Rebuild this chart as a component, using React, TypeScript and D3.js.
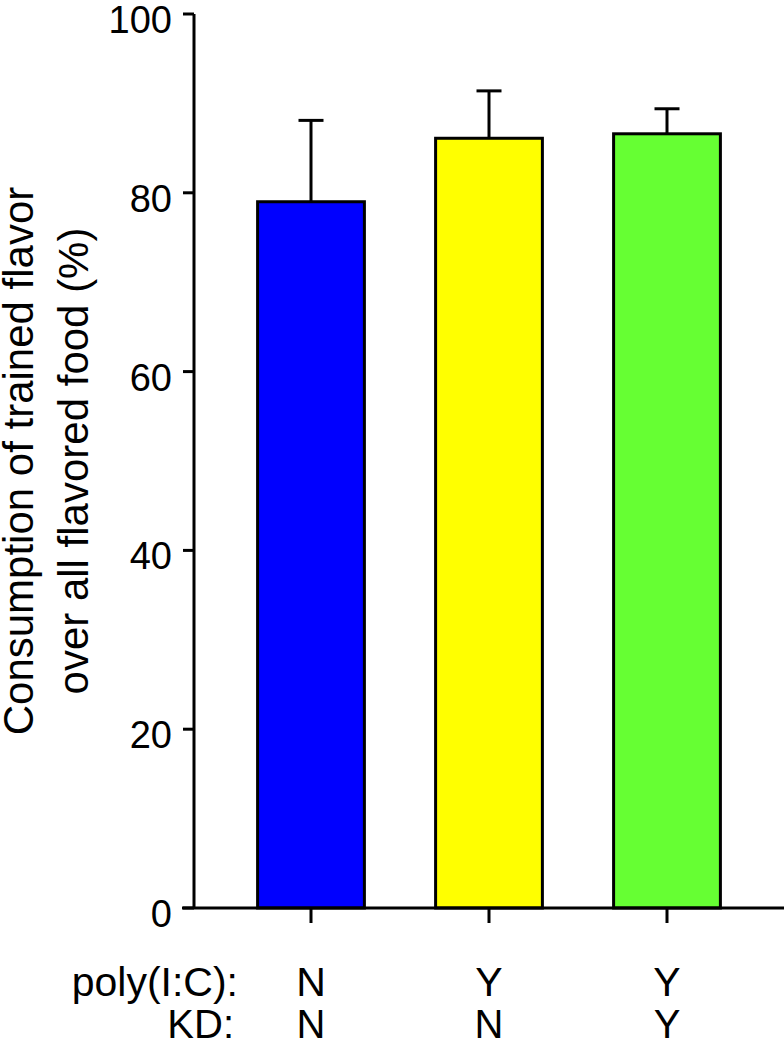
import React from "react";
import * as d3 from "d3";

const categories = ["A", "B", "C"];
const means = [79.0, 86.1, 86.6];
const errors = [9.1, 5.3, 2.8];
const colors = ["#0000FF", "#FFFF00", "#66FF33"];
const polyLabels = ["N", "Y", "Y"];
const kdLabels = ["N", "N", "Y"];
const yTicks = [0, 20, 40, 60, 80, 100];

const W = 784;
const H = 1044;
const FONT = "'Liberation Sans', Arial, Helvetica, sans-serif";

export default function App() {
  const y = d3.scaleLinear().domain([0, 100]).range([908, 14]);
  const x = d3
    .scaleBand<string>()
    .domain(categories)
    .range([222, 756])
    .paddingInner(0.4)
    .paddingOuter(0.2);
  const axisX = 194;
  const bw = x.bandwidth();
  const capW = 25;

  return (
    <svg
      width={W}
      height={H}
      style={{ position: "absolute", left: 0, top: 0, background: "#fff" }}
      fontFamily={FONT}
    >
      {/* bars */}
      {categories.map((c, i) => {
        const x0 = x(c)!;
        const cx = x0 + bw / 2;
        const top = y(means[i]);
        const errTop = y(means[i] + errors[i]);
        return (
          <g key={c}>
            <line x1={cx} x2={cx} y1={top} y2={errTop} stroke="#000" strokeWidth={3} />
            <line x1={cx - capW / 2} x2={cx + capW / 2} y1={errTop} y2={errTop} stroke="#000" strokeWidth={3} />
            <rect
              x={x0}
              y={top}
              width={bw}
              height={y(0) - top}
              fill={colors[i]}
              stroke="#000"
              strokeWidth={3}
            />
          </g>
        );
      })}

      {/* y axis */}
      <line x1={axisX} x2={axisX} y1={y(100)} y2={y(0)} stroke="#000" strokeWidth={3} />
      {yTicks.map((t) => (
        <g key={t}>
          <line x1={183} x2={axisX} y1={y(t)} y2={y(t)} stroke="#000" strokeWidth={3} />
          <text x={172} y={y(t) + 19} textAnchor="end" fontSize={38} fill="#000">
            {t}
          </text>
        </g>
      ))}

      {/* x axis */}
      <line x1={182} x2={784} y1={y(0)} y2={y(0)} stroke="#000" strokeWidth={3} />
      {categories.map((c, i) => {
        const cx = x(c)! + bw / 2;
        return (
          <g key={c}>
            <line x1={cx} x2={cx} y1={y(0)} y2={y(0) + 15} stroke="#000" strokeWidth={3} />
            <text x={cx} y={996} textAnchor="middle" fontSize={41} fill="#000">
              {polyLabels[i]}
            </text>
            <text x={cx} y={1038} textAnchor="middle" fontSize={40} fill="#000">
              {kdLabels[i]}
            </text>
          </g>
        );
      })}
      <text x={238} y={996} textAnchor="end" fontSize={41} fill="#000">
        poly(I:C):
      </text>
      <text x={234} y={1038} textAnchor="end" fontSize={40} fill="#000">
        KD:
      </text>

      {/* y title */}
      <g transform={`translate(0, ${(y(0) + y(100)) / 2}) rotate(-90)`}>
        <text x={0} y={33} textAnchor="middle" fontSize={42} fill="#000">
          Consumption of trained flavor
        </text>
        <text x={0} y={88} textAnchor="middle" fontSize={42} fill="#000">
          over all flavored food (%)
        </text>
      </g>
    </svg>
  );
}
